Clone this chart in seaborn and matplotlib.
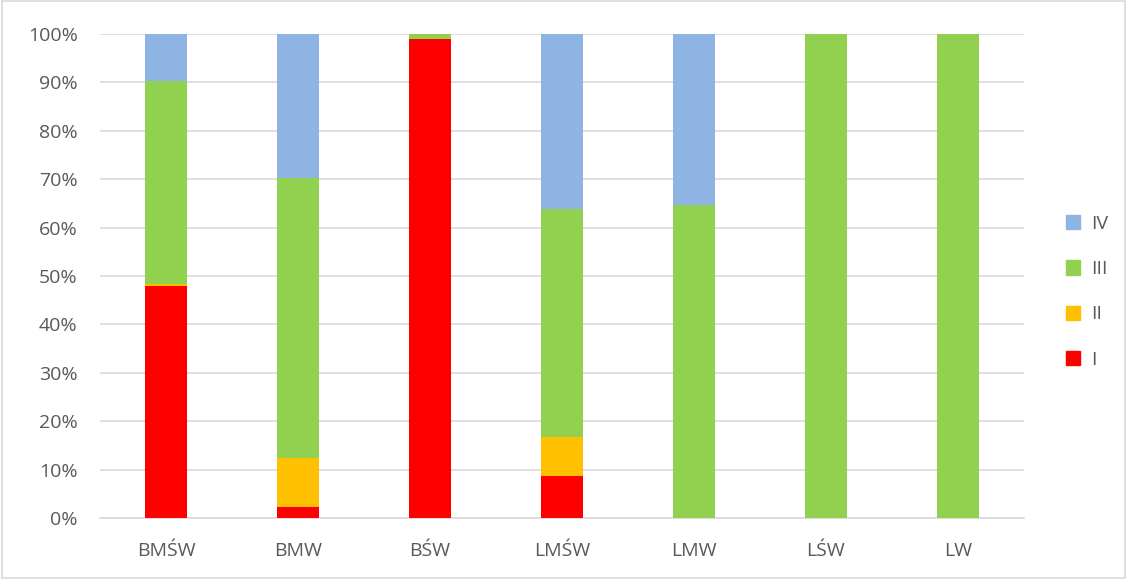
import seaborn as sns
import pandas as pd
import matplotlib.pyplot as plt
from matplotlib.patches import Patch

# data (shares in %)
categories = ["BMŚW", "BMW", "BŚW", "LMŚW", "LMW", "LŚW", "LW"]
s_I = [48.0, 2.3, 99.0, 8.7, 0.0, 0.0, 0.0]
s_II = [0.4, 10.0, 0.0, 8.1, 0.0, 0.0, 0.0]
s_III = [41.9, 57.9, 1.0, 47.0, 64.6, 100.0, 100.0]
s_IV = [9.7, 29.8, 0.0, 36.2, 35.4, 0.0, 0.0]

series = ["I", "II", "III", "IV"]
colors = {"I": "#FF0000", "II": "#FFC000", "III": "#92D050", "IV": "#8EB4E3"}

df = pd.DataFrame({"cat": categories, "I": s_I, "II": s_II, "III": s_III, "IV": s_IV})
# cumulative tops so the bars can be overlapped
df["c_I"] = df["I"]
df["c_II"] = df["c_I"] + df["II"]
df["c_III"] = df["c_II"] + df["III"]
df["c_IV"] = df["c_III"] + df["IV"]

sns.set_style("white")
plt.rcParams['font.family'] = ['Open Sans', 'DejaVu Sans']

fig = plt.figure(figsize=(11.27, 5.79), dpi=100)
ax = fig.add_axes([0.0887, 0.1054, 0.8199, 0.8359])

for s in reversed(series):
    sns.barplot(data=df, x="cat", y="c_" + s, color=colors[s], width=0.32,
                linewidth=0, saturation=1, ax=ax, zorder=3)

ax.set_ylim(0, 100)
ax.set_xlim(-0.5, 6.5)
ax.set_yticks(range(0, 101, 10))
ax.set_yticklabels([f"{v}%" for v in range(0, 101, 10)])
ax.yaxis.grid(True, color="#D9D9D9", linewidth=1.2, zorder=0)
ax.set_axisbelow(True)
ax.set_xlabel("")
ax.set_ylabel("")
for sp in ["top", "right", "left"]:
    ax.spines[sp].set_visible(False)
ax.spines["bottom"].set_color("#D9D9D9")
ax.spines["bottom"].set_linewidth(1.2)
ax.tick_params(axis="both", length=0, labelsize=14, colors="#595959")
ax.tick_params(axis="y", pad=16)
ax.tick_params(axis="x", pad=17)

handles = [Patch(color=colors[s], label=s) for s in reversed(series)]
leg = fig.legend(handles=handles, loc="center left", bbox_to_anchor=(0.930, 0.496),
                 frameon=False, fontsize=14, handlelength=0.75, handleheight=0.75,
                 handletextpad=0.55, labelspacing=1.4)
for t in leg.get_texts():
    t.set_color("#595959")

# light frame around the figure
fig.patches.append(plt.Rectangle((0.002, 0.002), 0.996, 0.996, transform=fig.transFigure,
                                 fill=False, edgecolor="#D9D9D9", linewidth=1.2))

fig.savefig("out.png", dpi=100)
